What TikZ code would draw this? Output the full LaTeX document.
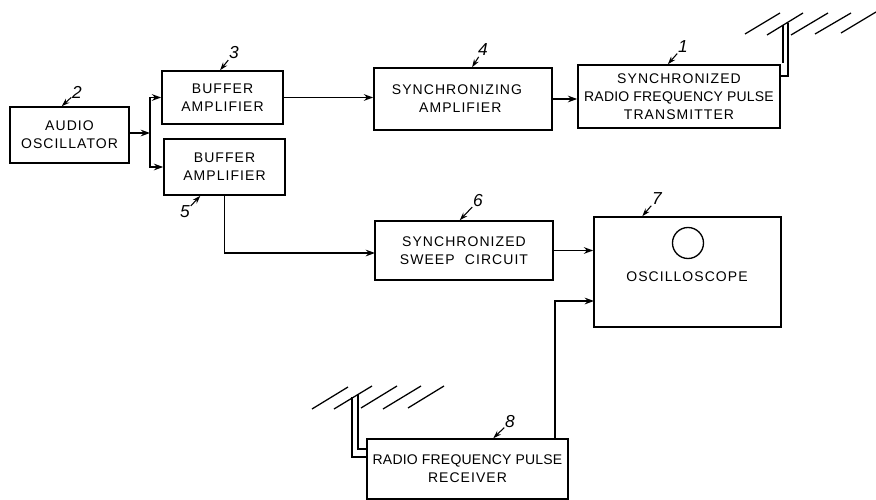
\documentclass[tikz,border=0pt]{standalone}
\usepackage{fontspec}
\setmainfont{Liberation Sans}
\usepackage{tikz}
\usetikzlibrary{arrows.meta}
\newcommand{\longline}[1]{{\addfontfeature{LetterSpace=1.5}#1}}
\tikzset{
  blockbox/.style={draw,line width=1.2pt,align=center,inner sep=0pt,font=\fontsize{10.5}{13.5}\selectfont\addfontfeature{LetterSpace=7.5}},
  reflabel/.style={font=\fontsize{13}{13}\selectfont\itshape,inner sep=0.5pt},
  refarrow/.style={-{Stealth[length=6pt,width=4pt]},line width=0.8pt},
  wire/.style={-{Stealth[length=7pt,width=5pt]},line width=1.05pt},
  aerial/.style={line width=0.95pt}
}
\begin{document}
\begin{tikzpicture}[x=0.75pt,y=-0.75pt]
\useasboundingbox (0,0) rectangle (876,500);
\node[blockbox,minimum width=89.25pt,minimum height=42pt](audio) at (69.5,135){AUDIO\\OSCILLATOR};
\node[blockbox,minimum width=90.75pt,minimum height=39.75pt](bufa) at (222.5,97.5){BUFFER\\AMPLIFIER};
\node[blockbox,minimum width=90.75pt,minimum height=42pt](bufb) at (224.5,167){BUFFER\\AMPLIFIER};
\node[blockbox,minimum width=133.5pt,minimum height=46.5pt](sync) at (463,99){SYNCHRONIZING\hspace*{9pt}\\AMPLIFIER\hspace*{4pt}};
\node[blockbox,minimum width=151.5pt,minimum height=47.25pt](trans) at (679,96.5){SYNCHRONIZED\\\longline{RADIO FREQUENCY PULSE}\\TRANSMITTER};
\node[blockbox,minimum width=133.5pt,minimum height=44.25pt](sweep) at (464,250.5){SYNCHRONIZED\\SWEEP\hspace{4pt} CIRCUIT};
\node[blockbox,minimum width=140.25pt,minimum height=82.5pt](scope) at (687.5,272){};
\node[blockbox,draw=none](scopetext) at (687,277){OSCILLOSCOPE};
\node[blockbox,minimum width=150.75pt,minimum height=45pt](rx) at (467.5,469){\longline{RADIO FREQUENCY PULSE}\\RECEIVER};
\node[draw,circle,line width=1pt,minimum size=23.25pt,inner sep=0pt](tube) at (688,243){};
\node[reflabel](labela) at (77,92){2};
\node[reflabel](labelb) at (234,53){3};
\node[reflabel](labelc) at (483,50){4};
\node[reflabel](labeld) at (683,47){1};
\node[reflabel](labele) at (185,212){5};
\node[reflabel](labelf) at (478,201){6};
\node[reflabel](labelg) at (657,199){7};
\node[reflabel](labelh) at (510,422){8};
\draw[refarrow](labela)--(audio.105);
\draw[refarrow](labelb)--(bufa.95);
\draw[refarrow](labelc)--(sync.74);
\draw[refarrow](labeld)--(trans.109);
\draw[refarrow](labele)--(bufb.230);
\draw[refarrow](labelf)--(sweep.98);
\draw[refarrow](labelg)--(scope.129);
\draw[refarrow](labelh)--(rx.50);
\coordinate(fork) at (150,133);
\coordinate(sweepin) at (375,253);
\coordinate(scopein) at (594,301);
\coordinate(rxout) at (555,439);
\draw[wire](audio.east|-fork)--(fork);
\draw[wire](fork)|-(bufa.west);
\draw[wire](fork)|-(bufb.west);
\draw[wire](bufa.east)--(bufa.east-|sync.west);
\draw[wire](sync.east)--(sync.east-|trans.west);
\draw[wire](bufb.south)|-(sweepin);
\draw[wire](sweep.east)--(sweep.east-|scope.west);
\draw[wire](rxout)|-(scopein);
\draw[aerial](745,34)--(780,13)
(767,35)--(803,13)
(791,35)--(828,13)
(815,34)--(851,13)
(841,33)--(876,12);
\draw[aerial](783,25)--(783,63)
(788,23)--(788,76)--(780,76);
\draw[aerial](312,409)--(348,387)
(334,409)--(372,386)
(361,408)--(397,386)
(383,409)--(421,386)
(408,408)--(444,386);
\draw[aerial](352,397)--(352,457)--(367,457)
(358,395)--(358,449)--(367,449);
\end{tikzpicture}
\end{document}
